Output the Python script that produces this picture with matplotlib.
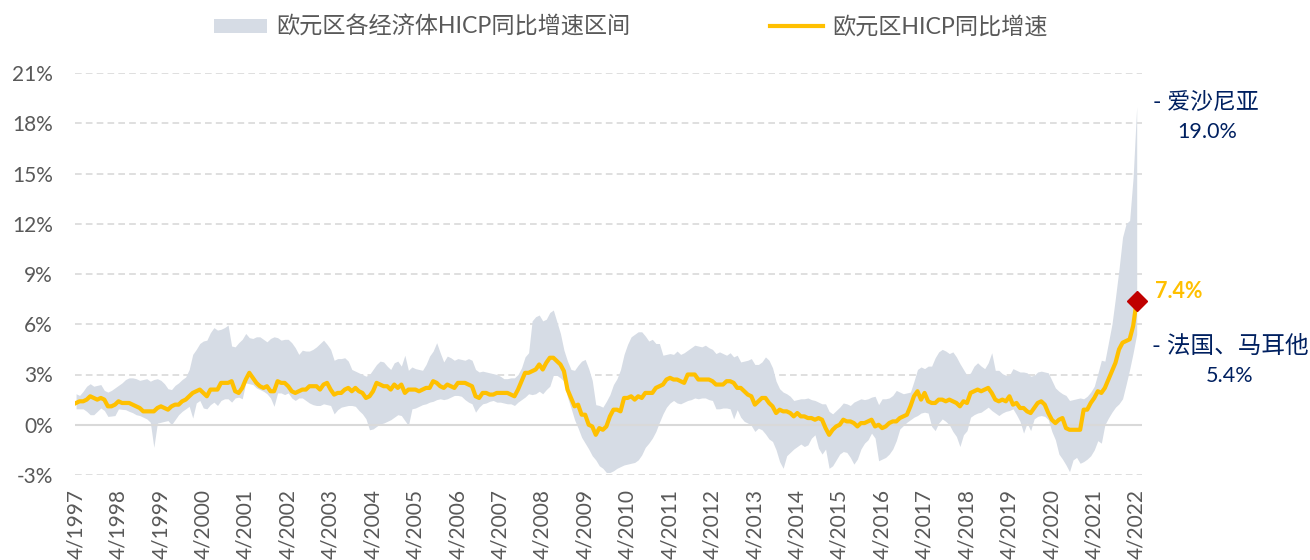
import numpy as np
import matplotlib
matplotlib.use("Agg")
import matplotlib.pyplot as plt
from matplotlib.patches import Patch
from matplotlib.lines import Line2D

plt.rcParams['font.family'] = ['Lato', 'Noto Sans CJK SC', 'DejaVu Sans']

# monthly data, 4/1997 .. 4/2022, one row per year starting in April
hicp = [
    1.3, 1.4, 1.4, 1.5, 1.7, 1.6, 1.5, 1.6, 1.5, 1.1, 1.1, 1.2,
    1.4, 1.3, 1.3, 1.3, 1.2, 1.1, 1.0, 0.8, 0.8, 0.8, 0.8, 1.0,
    1.1, 1.0, 0.9, 1.1, 1.2, 1.2, 1.4, 1.5, 1.7, 1.9, 2.0, 2.1,
    1.9, 1.7, 2.1, 2.1, 2.1, 2.5, 2.5, 2.5, 2.6, 2.0, 1.9, 2.2,
    2.7, 3.1, 2.8, 2.5, 2.3, 2.2, 2.3, 2.0, 2.0, 2.6, 2.5, 2.5,
    2.3, 2.0, 1.9, 2.0, 2.1, 2.1, 2.3, 2.3, 2.3, 2.1, 2.4, 2.5,
    2.1, 1.8, 1.9, 1.9, 2.1, 2.2, 2.0, 2.2, 2.0, 1.9, 1.6, 1.7,
    2.0, 2.5, 2.4, 2.3, 2.3, 2.1, 2.4, 2.2, 2.4, 1.9, 2.1, 2.1,
    2.1, 2.0, 2.1, 2.2, 2.2, 2.6, 2.5, 2.3, 2.2, 2.4, 2.3, 2.2,
    2.5, 2.5, 2.5, 2.4, 2.3, 1.7, 1.6, 1.9, 1.9, 1.8, 1.8, 1.9,
    1.9, 1.9, 1.9, 1.8, 1.7, 2.1, 2.6, 3.1, 3.1, 3.2, 3.3, 3.6,
    3.3, 3.7, 4.0, 4.0, 3.8, 3.6, 3.2, 2.1, 1.6, 1.1, 1.2, 0.6,
    0.6, 0.0, -0.1, -0.6, -0.2, -0.3, -0.1, 0.5, 0.9, 0.9, 0.8, 1.6,
    1.6, 1.7, 1.5, 1.7, 1.6, 1.9, 1.9, 1.9, 2.2, 2.3, 2.4, 2.7,
    2.8, 2.7, 2.7, 2.6, 2.5, 3.0, 3.0, 3.0, 2.7, 2.7, 2.7, 2.7,
    2.6, 2.4, 2.4, 2.4, 2.6, 2.6, 2.5, 2.2, 2.2, 2.0, 1.8, 1.7,
    1.2, 1.4, 1.6, 1.6, 1.3, 1.1, 0.7, 0.9, 0.8, 0.8, 0.7, 0.5,
    0.7, 0.5, 0.5, 0.4, 0.4, 0.3, 0.4, 0.3, -0.2, -0.6, -0.3, -0.1,
    0.0, 0.3, 0.2, 0.2, 0.1, -0.1, 0.1, 0.1, 0.2, 0.3, -0.1, 0.0,
    -0.2, -0.1, 0.1, 0.2, 0.2, 0.4, 0.5, 0.6, 1.1, 1.7, 2.0, 1.5,
    1.9, 1.4, 1.3, 1.3, 1.5, 1.5, 1.4, 1.5, 1.4, 1.3, 1.1, 1.4,
    1.3, 1.9, 2.0, 2.1, 2.0, 2.1, 2.2, 1.9, 1.5, 1.4, 1.5, 1.4,
    1.7, 1.2, 1.3, 1.0, 1.0, 0.8, 0.7, 1.0, 1.3, 1.4, 1.2, 0.7,
    0.3, 0.1, 0.3, 0.4, -0.2, -0.3, -0.3, -0.3, -0.3, 0.9, 0.9, 1.3,
    1.6, 2.0, 1.9, 2.2, 2.7, 3.2, 3.7, 4.5, 4.9, 5.0, 5.1, 5.9,
    7.4,
]

band_max = [
    1.85, 1.75, 2.0, 2.3, 2.45, 2.3, 2.35, 2.4, 2.05, 1.95, 2.05, 2.2,
    2.35, 2.5, 2.7, 2.8, 2.8, 2.75, 2.65, 2.7, 2.75, 2.6, 2.7, 2.75,
    2.65, 2.45, 2.15, 2.1, 2.35, 2.5, 2.7, 2.85, 3.3, 4.2, 4.5, 4.85,
    5.0, 5.05, 5.5, 5.8, 5.65, 5.7, 5.8, 5.95, 4.7, 4.65, 4.9, 5.1,
    5.45, 5.2, 5.15, 5.25, 5.25, 5.1, 4.95, 5.15, 5.25, 5.2, 5.05, 5.1,
    5.1, 4.9, 4.6, 4.2, 4.45, 4.4, 4.4, 4.5, 4.65, 4.85, 5.05, 4.8,
    4.5, 3.85, 3.95, 3.95, 4.0, 3.8, 3.3, 3.2, 3.1, 3.0, 2.9, 3.0,
    3.3, 3.6, 3.8, 3.75, 3.5, 3.3, 3.7, 3.8, 3.5, 4.15, 3.25, 3.45,
    3.35, 3.3, 3.25, 3.6, 4.1, 4.4, 4.9, 4.3, 3.75, 4.1, 4.0, 3.85,
    3.95, 3.9, 3.85, 3.95, 3.85, 3.3, 3.15, 3.2, 3.15, 3.1, 3.05, 3.0,
    2.9, 2.75, 2.75, 2.8, 2.8, 3.0, 3.4, 4.05, 4.3, 6.2, 6.45, 6.55,
    6.2, 6.3, 6.7, 6.85, 6.15, 5.45, 4.45, 3.8, 3.3, 3.25, 3.55, 3.8,
    3.9, 3.35, 2.65, 1.2, 1.15, 1.05, 1.4, 1.8, 2.4, 2.75, 3.3, 4.2,
    4.8, 5.25, 5.4, 5.55, 5.55, 5.3, 5.0, 5.1, 4.85, 4.85, 4.15, 4.2,
    4.25, 4.2, 4.4, 4.2, 4.3, 4.45, 4.6, 4.75, 4.7, 4.65, 4.75, 4.6,
    4.5, 4.25, 4.35, 4.25, 4.15, 4.3, 4.05, 4.15, 3.75, 3.8, 3.85, 3.95,
    3.6, 3.6, 3.75, 4.05, 3.85, 3.4, 2.6, 2.15, 1.95, 1.85, 1.7, 1.45,
    1.5, 1.55, 1.55, 1.6, 1.5, 1.45, 1.35, 1.25, 1.25, 0.8, 0.65, 0.85,
    1.05, 1.3, 1.25, 1.15, 1.35, 1.45, 1.55, 1.5, 1.55, 1.65, 1.7, 1.2,
    1.55, 1.55, 1.6, 1.75, 2.05, 1.95, 1.85, 1.9, 1.95, 2.6, 3.3, 3.45,
    3.35, 3.5, 3.5, 4.0, 4.35, 4.5, 4.4, 4.25, 4.35, 4.05, 3.65, 3.3,
    2.95, 3.1, 3.5, 3.7, 3.5, 3.35, 3.7, 4.3, 3.25, 3.25, 3.05, 2.95,
    2.95, 3.35, 3.25, 3.15, 3.15, 3.1, 2.9, 2.95, 3.15, 3.2, 3.15, 3.1,
    2.65, 2.2, 2.0, 1.85, 1.75, 1.45, 1.5, 1.55, 1.6, 1.55, 1.7, 1.95,
    2.3, 3.05, 3.85, 3.8, 4.9, 6.0, 7.6, 9.3, 11.2, 12.0, 12.2, 14.8,
    19.0,
]

band_min = [
    0.95, 0.95, 0.95, 0.8, 0.6, 0.6, 0.8, 1.0, 0.85, 0.5, 0.52, 0.55,
    0.95, 0.92, 0.9, 0.8, 0.72, 0.6, 0.55, 0.45, 0.35, 0.15, -1.35, 0.1,
    0.15, 0.2, 0.25, 0.0, 0.3, 0.6, 0.8, 0.95, 1.1, 0.4, 1.3, 1.45,
    1.0, 0.95, 1.2, 1.35, 1.15, 1.45, 1.55, 1.55, 1.35, 1.6, 1.65, 1.55,
    2.5, 2.45, 2.4, 2.2, 2.1, 2.0, 1.85, 1.6, 1.1, 1.9, 1.9, 1.8,
    1.9, 1.6, 1.45, 1.6, 1.6, 1.45, 1.3, 1.2, 1.15, 1.15, 1.25, 1.2,
    1.15, 0.65, 0.9, 1.05, 1.1, 1.15, 1.15, 1.1, 0.85, 0.65, 0.35, -0.3,
    -0.25, -0.1, 0.05, 0.1, 0.2, 0.3, 0.45, 0.6, 0.55, 0.25, -0.05, 0.95,
    1.0, 1.1, 1.2, 1.25, 1.35, 1.4, 1.5, 1.55, 1.5, 1.55, 1.65, 1.75,
    1.75, 1.7, 1.5, 1.35, 1.25, 0.75, 1.05, 1.25, 1.3, 1.4, 1.45, 1.35,
    1.35, 1.3, 1.25, 1.25, 1.15, 1.35, 1.5, 1.65, 1.85, 1.8, 1.85, 2.0,
    1.85, 2.1, 2.3, 2.95, 2.95, 2.8, 2.6, 1.65, 1.0, 0.3, -0.2, -0.75,
    -1.1, -1.45, -1.85, -2.1, -2.45, -2.6, -2.85, -2.85, -2.75, -2.6, -2.5, -2.4,
    -2.35, -2.3, -2.25, -2.1, -1.8, -1.35, -1.1, -0.8, -0.4, 0.15, 0.65, 1.05,
    1.3, 1.45, 1.3, 1.25, 1.35, 1.45, 1.5, 1.6, 1.55, 1.6, 1.6, 1.5,
    1.45, 0.95, 0.95, 1.0, 1.0, 0.95, 0.35, 0.9, 0.45, 0.2, 0.1, -0.05,
    -0.4, -0.2, -0.3, -0.55, -0.85, -1.0, -1.5, -2.2, -2.6, -1.85, -1.65, -1.45,
    -1.3, -1.15, -1.3, -1.2, -0.8, -0.6, -1.4, -1.75, -1.45, -2.6, -2.45, -2.1,
    -1.75, -1.6, -1.65, -1.95, -2.35, -2.05, -1.45, -1.1, -0.9, -0.5, -0.8, -2.15,
    -2.05, -1.95, -1.75, -1.45, -0.95, -0.25, -0.05, 0.15, 0.3, 0.45, 0.55, 0.7,
    0.75, 0.7, -0.1, -0.35, 0.1, 0.35, 0.2, 0.0, -0.4, -0.7, -1.3, -0.6,
    -0.35, 0.45, 0.6, 0.7, 0.75, 0.9, 1.05, 0.85, 0.7, 0.55, 0.7, 0.8,
    0.85, 0.95, 0.6, 0.2, -0.5, 0.1, -0.35, 0.35, 0.5, 0.55, 0.5, 0.3,
    -0.4, -0.9, -1.75, -2.05, -2.4, -2.8, -2.1, -1.95, -2.3, -2.2, -2.05, -1.85,
    -1.5, -0.95, -1.1, 0.0, 0.4, 0.75, 1.05, 1.25, 1.55, 2.4, 3.3, 4.3,
    5.4,
]

years = [1997, 1998, 1999, 2000, 2001, 2002, 2003, 2004, 2005, 2006, 2007, 2008, 2009,
         2010, 2011, 2012, 2013, 2014, 2015, 2016, 2017, 2018, 2019, 2020, 2021, 2022]
tick_labels = ["4/%d" % y for y in years]
y_ticks = [-3, 0, 3, 6, 9, 12, 15, 18, 21]

band_color = '#D6DCE5'
line_color = '#FFC000'
grey_text = '#595959'
navy = '#002060'

months = np.arange(len(hicp))

fig = plt.figure(figsize=(13.1, 5.6), dpi=100)
ax = fig.add_axes([75 / 1310, 1 - 475 / 560, (1142 - 75) / 1310, (475 - 73) / 560])

ax.fill_between(months, band_min, band_max, color=band_color, lw=0, zorder=1)
ax.plot(months, hicp, color=line_color, lw=3, zorder=3, solid_joinstyle='round')
ax.plot(months[-1], hicp[-1], marker='D', ms=10, color='#C00000', zorder=4, clip_on=False)

for v in y_ticks:
    if v == 0:
        ax.axhline(v, color='#D9D9D9', lw=1.5, zorder=2)
    else:
        ax.axhline(v, color='#D9D9D9', lw=1.2, dashes=(4, 2.5), zorder=0)

ax.set_xlim(-0.3, 301.5)
ax.set_ylim(-3, 21)
ax.set_yticks(y_ticks)
ax.set_yticklabels(["%d%%" % v for v in y_ticks], fontsize=15, color=grey_text)
ax.set_xticks(months[::12])
ax.set_xticklabels(tick_labels, rotation=90, fontsize=15, color=grey_text)
ax.tick_params(length=0)
ax.tick_params(axis='y', pad=16)
ax.tick_params(axis='x', pad=10)
for s in ax.spines.values():
    s.set_visible(False)

handles = [Patch(facecolor=band_color, edgecolor='none'),
           Line2D([0], [0], color=line_color, lw=3)]
fig.legend(handles, ['欧元区各经济体HICP同比增速区间', '欧元区HICP同比增速'],
           loc='center', bbox_to_anchor=(631 / 1310, 1 - 27 / 560), ncol=2,
           frameon=False, fontsize=16.7, handlelength=2.3, handleheight=0.6,
           handletextpad=0.4, columnspacing=6.0, labelcolor=grey_text)

fig.text(1153 / 1310, 1 - 102 / 560, '- 爱沙尼亚', fontsize=16.5, color=navy, va='center', ha='left')
fig.text(1207 / 1310, 1 - 132 / 560, '19.0%', fontsize=15.5, color=navy, va='center', ha='center')
fig.text(1155 / 1310, 1 - 291 / 560, '7.4%', fontsize=15.5, color=line_color, fontweight='bold',
         va='center', ha='left')
fig.text(1152 / 1310, 1 - 346 / 560, '- 法国、马耳他', fontsize=17, color=navy, va='center', ha='left')
fig.text(1230 / 1310, 1 - 376 / 560, '5.4%', fontsize=15.5, color=navy, va='center', ha='center')

fig.savefig('out.png', dpi=100)
